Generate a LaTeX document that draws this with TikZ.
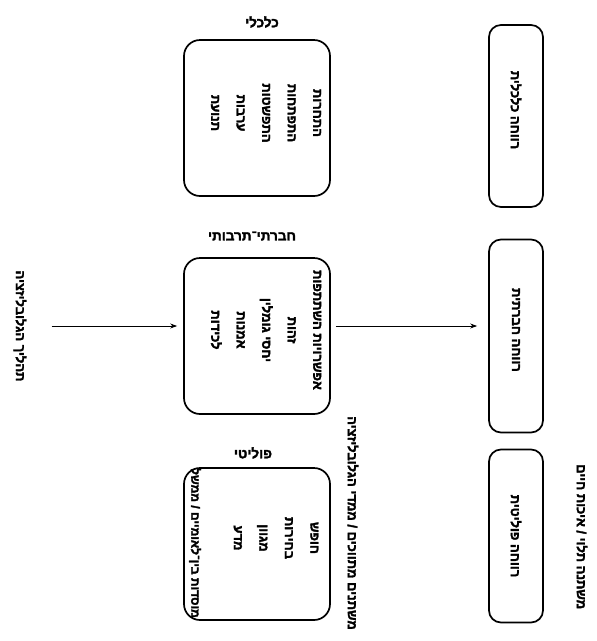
\documentclass[tikz,border=0pt]{standalone}
\usepackage{fontspec}
\newfontfamily\hebfont[Script=Hebrew, BoldFeatures={FakeBold=2.5}]{Liberation Sans}
\TeXXeTstate=1
\usetikzlibrary{positioning,arrows.meta}
\newcommand{\heb}[1]{\beginR #1\endR}

\begin{document}
\begin{tikzpicture}[x=1pt,y=-1pt,
  dimbox/.style={draw, line width=1.7pt, rounded corners=16pt, minimum width=146pt},
  resbox/.style={draw, line width=1.7pt, rounded corners=12pt, minimum width=54pt},
  vlabel/.style={rotate=-90, font=\hebfont\bfseries\fontsize{13}{25.5}\selectfont, align=center, inner sep=0pt},
  headlabel/.style={font=\hebfont\bfseries\fontsize{13.5}{15}\selectfont, inner sep=0pt},
  flow/.style={-{Stealth[length=7pt,width=5pt]}, line width=0.9pt}]
\useasboundingbox (0,0) rectangle (597,641);
\clip (0,0) rectangle (597,641);

% dimensions
\node[dimbox, minimum height=156pt] (econ) at (257,118) {};
\node[dimbox, minimum height=156pt] (soc) at (257,336) {};
\node[dimbox, minimum height=152pt] (pol) at (257,544) {};
\node[headlabel] (econhead) at (262,22) {\heb{כלכלי}};
\node[headlabel] (sochead) at (252,236) {\heb{חברתי־תרבותי}};
\node[headlabel] (polhead) at (253,453) {\heb{פוליטי}};
\node[vlabel] (econtext) at (266,113) {\heb{התחרות}\\\heb{התפתחות}\\\heb{התפשטות}\\\heb{ערבות}\\\heb{תנועת}};
\node[vlabel] (soctext) at (266,330) {\heb{אפשרויות השתתפות}\\\heb{זהות}\\\heb{יחסי גומלין}\\\heb{אמנות}\\\heb{לכידות}};
\node[vlabel] (poltext) at (276,538) {\heb{חופש}\\\heb{בחירות}\\\heb{מגוון}\\\heb{מדע}};
\node[vlabel, font=\hebfont\bfseries\fontsize{12}{14}\selectfont] (polline) at (195,543) {\heb{מוסדות בין־לאומיים / ממשל}};

% welfare
\node[resbox, minimum height=182pt] (econres) at (516,116) {};
\node[resbox, minimum height=193pt] (socres) at (516,336) {};
\node[resbox, minimum height=173pt] (polres) at (516,536) {};
\node[vlabel] (econrestext) at (516,110) {\heb{רווחה כלכלית}};
\node[vlabel] (socrestext) at (516,330) {\heb{רווחה חברתית}};
\node[vlabel] (polrestext) at (516,536) {\heb{רווחה פוליטית}};

% side labels
\node[vlabel] (glob) at (20,326) {\heb{תהליך הגלובליזציה}};
\node[vlabel, anchor=west] (midnote) at (353,416) {\heb{משתנים מתווכים / ממדי הגלובליזציה}};
\node[vlabel, anchor=west] (resnote) at (582,464) {\heb{משתנה תלוי / איכות חיים}};

\draw[flow] ([xshift=25pt]glob.north) -- ([xshift=-6pt]glob.north -| soc.west);
\draw[flow] ([xshift=5pt]glob.north -| soc.east) -- ([xshift=-11pt]glob.north -| socres.west);
\end{tikzpicture}
\end{document}
